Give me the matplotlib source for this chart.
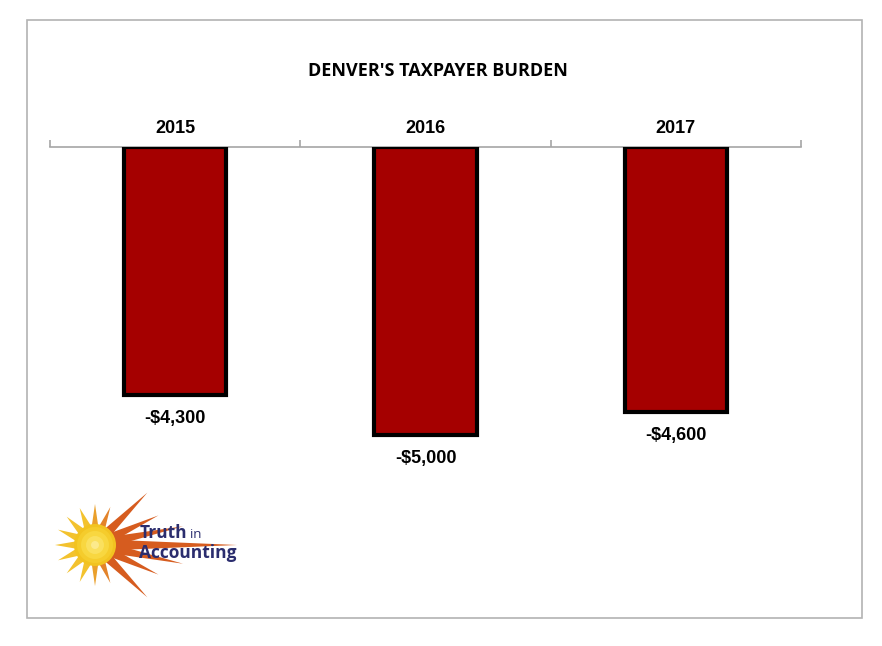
import numpy as np
import matplotlib.pyplot as plt
from matplotlib.patches import Rectangle, Polygon, Circle

years = ["2015", "2016", "2017"]
burden = [-4300, -5000, -4600]
value_labels = ["-$4,300", "-$5,000", "-$4,600"]

W, H = 882, 646
fig = plt.figure(figsize=(W / 100, H / 100), dpi=100)
fig.patch.set_facecolor("white")

# outer grey frame
fig.patches.append(Rectangle((27 / W, 1 - 618 / H), (862 - 27) / W, (618 - 20) / H,
                             transform=fig.transFigure, fill=False,
                             edgecolor="#b3b3b3", linewidth=1.2))

fig.text(438 / W, 1 - 71 / H, "DENVER'S TAXPAYER BURDEN", ha="center", va="center",
         fontsize=13, fontweight="bold", family=["Open Sans", "DejaVu Sans"])

ax = fig.add_axes([50 / W, 1 - 493 / H, (801 - 50) / W, (493 - 147) / H])
x = np.arange(len(years))
ax.bar(x, burden, width=0.41, color="#a50000", edgecolor="black", linewidth=3, zorder=3)
ax.set_xlim(-0.5, 2.5)
ax.set_ylim(-6000, 0)
for side in ["left", "right", "bottom"]:
    ax.spines[side].set_visible(False)
ax.spines["top"].set_color("#a6a6a6")
ax.spines["top"].set_linewidth(1.2)
ax.xaxis.set_ticks_position("top")
ax.set_xticks([-0.5, 0.5, 1.5, 2.5])
ax.set_xticklabels([])
ax.tick_params(axis="x", direction="out", length=5, color="#a6a6a6", width=1.2)
ax.set_yticks([])

nfont = dict(family=["Liberation Sans", "DejaVu Sans"], fontweight="bold", fontsize=13)
for i, (yr, v, lab) in enumerate(zip(years, burden, value_labels)):
    ax.annotate(yr, (i, 0), xytext=(0, 13), textcoords="offset points",
                ha="center", va="center", **nfont)
    ax.annotate(lab, (i, v), xytext=(0, -17), textcoords="offset points",
                ha="center", va="center", **nfont)

# Truth in Accounting logo
lax = fig.add_axes([40 / W, 1 - 610 / H, 220 / W, 130 / H])
lax.set_xlim(40, 260)
lax.set_ylim(610, 480)
lax.axis("off")
cx, cy = 95, 545

def ray(angle, length, width, color):
    a = np.deg2rad(angle)
    tip = (cx + length * np.cos(a), cy - length * np.sin(a))
    p = np.deg2rad(angle + 90)
    b1 = (cx + width * np.cos(p), cy - width * np.sin(p))
    b2 = (cx - width * np.cos(p), cy + width * np.sin(p))
    lax.add_patch(Polygon([b1, tip, b2], closed=True, color=color, lw=0))

# short rays around the sun
for ang in np.arange(112.5, 260, 22.5):
    ray(ang, 40, 7, "#f3c22e")
for ang in [90, 270]:
    ray(ang, 41, 6, "#eaa02c")
for ang in [68, 292]:
    ray(ang, 41, 6, "#e3832a")
# long orange-red rays to the right
for ang, ln in [(45, 74), (25, 70), (12, 90), (0, 142), (-12, 90), (-25, 70), (-45, 74)]:
    ray(ang, ln, 6, "#d65c1f")
for r, c in [(21, "#f2c320"), (18, "#f5cc2c"), (14, "#f8d740"), (9, "#fae05e"), (4, "#fcea8c")]:
    lax.add_patch(Circle((cx, cy), r, color=c, lw=0))
lax.text(140, 533, "Truth", fontsize=12.5, fontweight="bold", color="#2b2d6e",
         family="Open Sans", va="center")
lax.text(190, 534, "in", fontsize=9.5, color="#2b2d6e", family="Open Sans", va="center")
lax.text(139, 553, "Accounting", fontsize=12.5, fontweight="bold", color="#2b2d6e",
         family="Open Sans", va="center")

fig.savefig("out.png", dpi=100)
